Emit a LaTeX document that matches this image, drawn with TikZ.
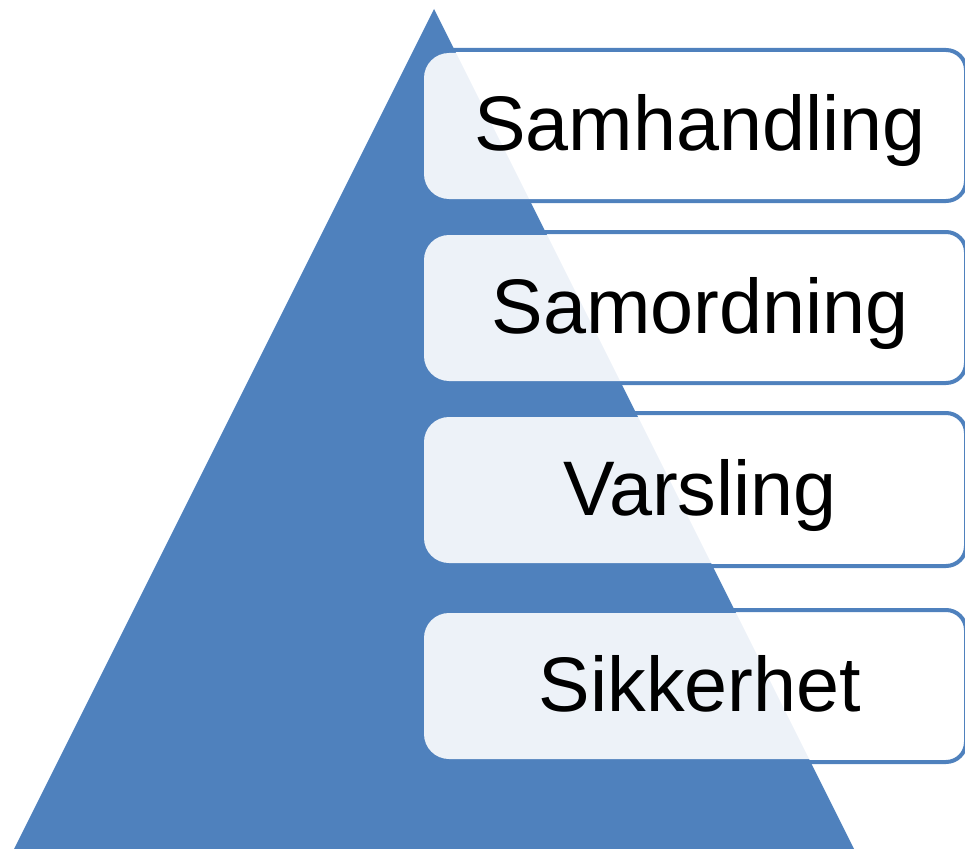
\documentclass[tikz,border=0pt]{standalone}
\usepackage{fontspec}
\setmainfont{Liberation Sans}
\definecolor{pyrblue}{HTML}{4F81BD}

\begin{document}
\begin{tikzpicture}[x=0.75pt,y=-0.75pt,
  outline/.style={draw=pyrblue,line width=4pt*0.75,rounded corners=20pt*0.75},
  panel/.style={fill=white,fill opacity=0.9,rounded corners=25pt*0.75},
  label/.style={anchor=base,inner sep=0pt,font=\fontsize{58}{70}\selectfont}]
\useasboundingbox (0,0) rectangle (965,849);
% Draw the pyramid
\fill[pyrblue] (434,9) coordinate (apex) -- (14,849) coordinate (left)
  -- (854,849) coordinate (right) -- cycle;
% Blue outlines behind the panels
\draw[outline] (428,50) rectangle (966,201);
\draw[outline] (428,232) rectangle (966,383);
\draw[outline] (428,413) rectangle (966,566);
\draw[outline] (428,610) rectangle (966,762);
% Light panels over the pyramid
\fill[panel] (424,53) rectangle (955,199);
\fill[panel] (424,235) rectangle (955,381);
\fill[panel] (424,417) rectangle (955,563);
\fill[panel] (424,613) rectangle (955,759);
% Labels of the levels
\node[label] (samhandling) at (700,151) {Samhandling};
\node[label] (samordning) at (700,333) {Samordning};
\node[label] (varsling) at (700,515) {Varsling};
\node[label] (sikkerhet) at (700,711) {Sikkerhet};
\end{tikzpicture}
\end{document}
